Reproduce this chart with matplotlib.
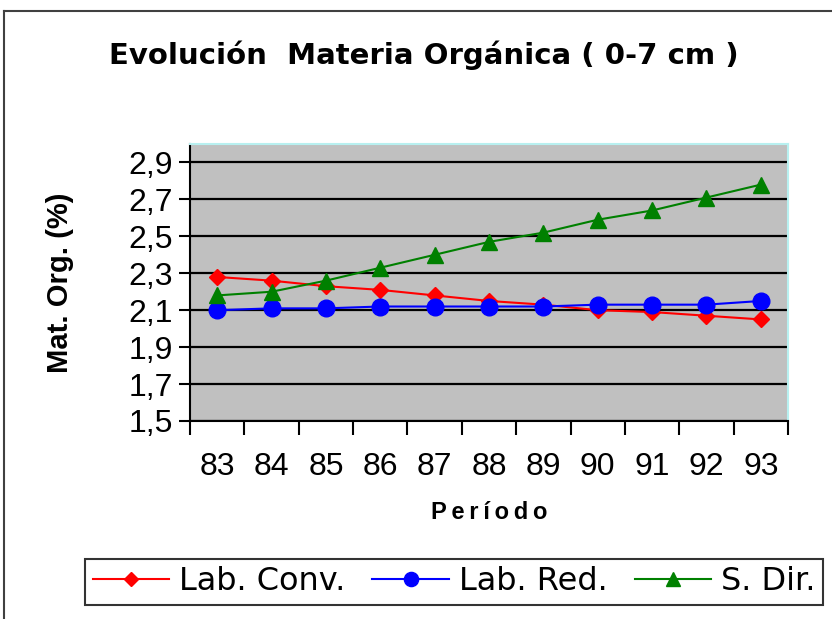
import matplotlib
matplotlib.use("Agg")
import matplotlib.pyplot as plt
from matplotlib.lines import Line2D
from matplotlib.ticker import FixedLocator

# ── DATOS ────────────────────────────────────────────────────────────────
periodos = ["83", "84", "85", "86", "87", "88", "89", "90", "91", "92", "93"]
lab_conv = [2.28, 2.26, 2.23, 2.21, 2.18, 2.15, 2.13, 2.10, 2.09, 2.07, 2.05]
lab_red  = [2.10, 2.11, 2.11, 2.12, 2.12, 2.12, 2.12, 2.13, 2.13, 2.13, 2.15]
s_dir    = [2.18, 2.20, 2.26, 2.33, 2.40, 2.47, 2.52, 2.59, 2.64, 2.71, 2.78]
y_ticks  = [1.5, 1.7, 1.9, 2.1, 2.3, 2.5, 2.7, 2.9]

plt.rcParams['font.family'] = ['Liberation Sans', 'DejaVu Sans']

W, H = 832, 619
fig = plt.figure(figsize=(W / 100, H / 100), dpi=100)
ax = fig.add_axes([190 / W, 1 - 421 / H, (788 - 190) / W, (421 - 144) / H])

x = range(len(periodos))
ax.set_facecolor('#c0c0c0')
ax.set_axisbelow(True)
ax.yaxis.grid(True, color='black', linewidth=1.6)

ax.plot(x, lab_conv, color='#ff0000', marker='D', markersize=8, linewidth=1.5,
        label='Lab. Conv.')
ax.plot(x, lab_red, color='#0000ff', marker='o', markersize=12, linewidth=1.5,
        label='Lab. Red.')
ax.plot(x, s_dir, color='#008000', marker='^', markersize=12, linewidth=1.5,
        label='S. Dir.')

ax.set_xlim(-0.5, len(periodos) - 0.5)
ax.set_ylim(1.5, 3.0)
ax.set_yticks(y_ticks)
ax.set_yticklabels([f"{v:.1f}".replace('.', ',') for v in y_ticks])
ax.set_xticks(list(x))
ax.set_xticklabels(periodos)
ax.xaxis.set_minor_locator(FixedLocator([i - 0.5 for i in range(len(periodos) + 1)]))

ax.tick_params(axis='x', which='major', length=0, pad=22, labelsize=23)
ax.tick_params(axis='x', which='minor', length=10, width=1.5, direction='out')
ax.tick_params(axis='y', length=8, width=1.5, direction='out', pad=4, labelsize=23)

for s in ['left', 'bottom']:
    ax.spines[s].set_color('black')
    ax.spines[s].set_linewidth(1.5)
for s in ['top', 'right']:
    ax.spines[s].set_color('#b8f0f0')
    ax.spines[s].set_linewidth(1.5)

ax.set_ylabel("Mat. Org. (%)", fontsize=21, fontweight='bold')
ax.yaxis.set_label_coords(-0.194, 0.5)
ax.set_xlabel("P\u2009e\u2009r\u2009í\u2009o\u2009d\u2009o", fontsize=17,
              fontweight='bold', labelpad=14)

fig.text(424 / W, 1 - 55 / H, "Evolución  Materia Orgánica ( 0-7 cm )",
         ha='center', va='center', fontsize=21, fontweight='bold',
         family='DejaVu Sans')

# borde exterior del gráfico
fig.add_artist(Line2D([4 / W, 4 / W], [0, 1 - 11 / H], transform=fig.transFigure,
                      color='#404040', linewidth=1.5))
fig.add_artist(Line2D([4 / W, 1], [1 - 11 / H, 1 - 11 / H], transform=fig.transFigure,
                      color='#404040', linewidth=1.5))

leg = fig.legend(loc='center', bbox_to_anchor=(454 / W, 1 - 582 / H), ncol=3,
                 prop={'family': 'DejaVu Sans', 'size': 23}, frameon=True,
                 fancybox=False, handlelength=2.4, columnspacing=0.85,
                 handletextpad=0.3, borderpad=0.25, markerscale=0.85)
leg.get_frame().set_edgecolor('black')
leg.get_frame().set_linewidth(1.5)

fig.savefig("out.png", dpi=100)
